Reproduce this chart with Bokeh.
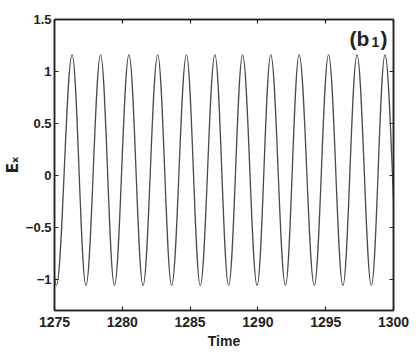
from bokeh.plotting import figure
from bokeh.models import ColumnDataSource, LinearAxis, FixedTicker, Range1d, Label
from bokeh.embed import file_html
from bokeh.resources import INLINE

# Extrema of E_x (time, value)
peak_t = [1274.05, 1276.30, 1278.40, 1280.49, 1282.61, 1284.73, 1286.83,
          1288.87, 1290.95, 1293.04, 1295.21, 1297.31, 1299.37]
peak_v = [1.16, 1.16, 1.16, 1.16, 1.16, 1.16, 1.16,
          1.16, 1.16, 1.16, 1.16, 1.16, 1.16]
trough_t = [1275.14, 1277.32, 1279.42, 1281.53, 1283.64, 1285.75, 1287.84,
            1289.94, 1292.03, 1294.16, 1296.27, 1298.37, 1300.45]
trough_v = [-1.06, -1.06, -1.06, -1.06, -1.06, -1.06, -1.06,
            -1.06, -1.06, -1.06, -1.06, -1.06, -1.06]

x_ticks = [1275, 1280, 1285, 1290, 1295, 1300]
y_ticks = [-1, -0.5, 0, 0.5, 1, 1.5]

# merge extrema in time order
pts = sorted(list(zip(peak_t, peak_v)) + list(zip(trough_t, trough_v)))
K = 0.3634  # cubic handle for a half-cosine between extrema
x0 = [a[0] for a in pts[:-1]]
y0 = [a[1] for a in pts[:-1]]
x1 = [b[0] for b in pts[1:]]
y1 = [b[1] for b in pts[1:]]
cx0 = [a + K * (b - a) for a, b in zip(x0, x1)]
cx1 = [b - K * (b - a) for a, b in zip(x0, x1)]
src = ColumnDataSource(dict(x0=x0, y0=y0, x1=x1, y1=y1, cx0=cx0, cy0=y0, cx1=cx1, cy1=y1))

FONT = "Liberation Sans"
INK = "#222222"

p = figure(width=416, height=354, output_backend="svg", toolbar_location=None,
           x_range=Range1d(1275, 1300), y_range=Range1d(-1.3, 1.5),
           min_border_left=47, min_border_right=23, min_border_top=19, min_border_bottom=44,
           background_fill_color="white", border_fill_color="white")
p.grid.visible = False
p.outline_line_color = INK
p.outline_line_width = 1.5

p.bezier(x0="x0", y0="y0", x1="x1", y1="y1", cx0="cx0", cy0="cy0", cx1="cx1", cy1="cy1",
         source=src, line_color="#4a4a4a", line_width=1.3)

def style(ax, labels=True, size="14px"):
    ax.major_tick_in = 4
    ax.major_tick_out = 0
    ax.minor_tick_line_color = None
    ax.axis_line_color = INK
    ax.axis_line_width = 1.5
    ax.major_tick_line_color = INK
    ax.major_tick_line_width = 1.2
    ax.major_label_text_font = FONT
    ax.major_label_text_font_style = "bold"
    ax.major_label_text_font_size = size if labels else "0px"
    ax.major_label_text_color = INK if labels else None
    ax.axis_label_text_font = FONT
    ax.axis_label_text_font_style = "bold"
    ax.axis_label_text_font_size = "14px"
    ax.axis_label_text_color = INK

xa = p.xaxis[0]
xa.ticker = FixedTicker(ticks=x_ticks)
xa.axis_label = "Time"
xa.major_label_standoff = 6
xa.axis_label_standoff = 3
style(xa)

ya = p.yaxis[0]
ya.ticker = FixedTicker(ticks=y_ticks)
ya.major_label_standoff = 3
ya.axis_label = "Eₓ"
ya.axis_label_standoff = 1
style(ya, size="13px")
ya.axis_label_text_font = "DejaVu Sans"
ya.axis_label_text_font_size = "15px"

top = LinearAxis(ticker=FixedTicker(ticks=x_ticks))
style(top, labels=False)
p.add_layout(top, "above")
right = LinearAxis(ticker=FixedTicker(ticks=y_ticks))
style(right, labels=False)
p.add_layout(right, "right")

# panel label (b_1)
pl = dict(text_font=FONT, text_font_style="bold", text_color=INK,
          text_align="left", text_baseline="alphabetic")
p.add_layout(Label(x=1296.75, y=1.32, text="(b", text_font_size="21px", **pl))
p.add_layout(Label(x=1296.75, y=1.32, x_offset=22, y_offset=-4, text="1",
                   text_font_size="14px", **pl))
p.add_layout(Label(x=1296.75, y=1.32, x_offset=31, text=")", text_font_size="21px", **pl))

open("out.html", "w").write(file_html(p, INLINE))
